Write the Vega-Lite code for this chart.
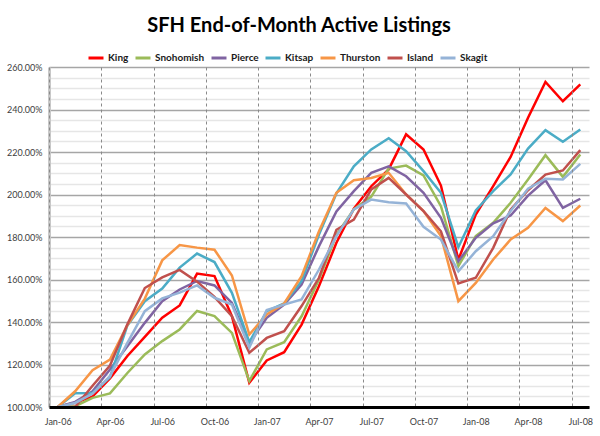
{
  "$schema": "https://vega.github.io/schema/vega-lite/v6.json",
  "width": 540,
  "height": 340,
  "autosize": "none",
  "padding": {"left": 49, "top": 67, "right": 11, "bottom": 29},
  "background": "white",
  "title": {
    "text": "SFH End-of-Month Active Listings",
    "font": "Lato",
    "fontSize": 20,
    "fontWeight": "bold",
    "color": "#000000",
    "anchor": "middle",
    "frame": "group",
    "baseline": "alphabetic",
    "offset": -3,
    "dx": -20
  },
  "datasets": {
    "listings": [
      {"m":"Jan-06","s":"King","v":100},{"m":"Feb-06","s":"King","v":102},{"m":"Mar-06","s":"King","v":105},{"m":"Apr-06","s":"King","v":113.5},{"m":"May-06","s":"King","v":124},{"m":"Jun-06","s":"King","v":133},{"m":"Jul-06","s":"King","v":142},{"m":"Aug-06","s":"King","v":147.8},{"m":"Sep-06","s":"King","v":162.8},{"m":"Oct-06","s":"King","v":161.6},{"m":"Nov-06","s":"King","v":142.7},{"m":"Dec-06","s":"King","v":111.4},{"m":"Jan-07","s":"King","v":121.9},{"m":"Feb-07","s":"King","v":125.8},{"m":"Mar-07","s":"King","v":138.8},{"m":"Apr-07","s":"King","v":156.9},{"m":"May-07","s":"King","v":177.3},{"m":"Jun-07","s":"King","v":193.3},{"m":"Jul-07","s":"King","v":203.9},{"m":"Aug-07","s":"King","v":211.8},{"m":"Sep-07","s":"King","v":228.3},{"m":"Oct-07","s":"King","v":221.2},{"m":"Nov-07","s":"King","v":204.2},{"m":"Dec-07","s":"King","v":169.3},{"m":"Jan-08","s":"King","v":190.6},{"m":"Feb-08","s":"King","v":203.9},{"m":"Mar-08","s":"King","v":217.7},{"m":"Apr-08","s":"King","v":236.1},{"m":"May-08","s":"King","v":253},{"m":"Jun-08","s":"King","v":243.9},{"m":"Jul-08","s":"King","v":251.8},
      {"m":"Jan-06","s":"Snohomish","v":100},{"m":"Feb-06","s":"Snohomish","v":100.4},{"m":"Mar-06","s":"Snohomish","v":104.3},{"m":"Apr-06","s":"Snohomish","v":106.4},{"m":"May-06","s":"Snohomish","v":116},{"m":"Jun-06","s":"Snohomish","v":124.7},{"m":"Jul-06","s":"Snohomish","v":131},{"m":"Aug-06","s":"Snohomish","v":136.5},{"m":"Sep-06","s":"Snohomish","v":145.2},{"m":"Oct-06","s":"Snohomish","v":142.8},{"m":"Nov-06","s":"Snohomish","v":134.9},{"m":"Dec-06","s":"Snohomish","v":112.2},{"m":"Jan-07","s":"Snohomish","v":127.1},{"m":"Feb-07","s":"Snohomish","v":130.5},{"m":"Mar-07","s":"Snohomish","v":142.7},{"m":"Apr-07","s":"Snohomish","v":160},{"m":"May-07","s":"Snohomish","v":181},{"m":"Jun-07","s":"Snohomish","v":193},{"m":"Jul-07","s":"Snohomish","v":199},{"m":"Aug-07","s":"Snohomish","v":212.2},{"m":"Sep-07","s":"Snohomish","v":213.6},{"m":"Oct-07","s":"Snohomish","v":209},{"m":"Nov-07","s":"Snohomish","v":194.5},{"m":"Dec-07","s":"Snohomish","v":166.3},{"m":"Jan-08","s":"Snohomish","v":180.4},{"m":"Feb-08","s":"Snohomish","v":186.7},{"m":"Mar-08","s":"Snohomish","v":196.1},{"m":"Apr-08","s":"Snohomish","v":207.1},{"m":"May-08","s":"Snohomish","v":218.5},{"m":"Jun-08","s":"Snohomish","v":208.3},{"m":"Jul-08","s":"Snohomish","v":218.8},
      {"m":"Jan-06","s":"Pierce","v":100},{"m":"Feb-06","s":"Pierce","v":102.4},{"m":"Mar-06","s":"Pierce","v":107.4},{"m":"Apr-06","s":"Pierce","v":117.6},{"m":"May-06","s":"Pierce","v":128.6},{"m":"Jun-06","s":"Pierce","v":139.6},{"m":"Jul-06","s":"Pierce","v":149.8},{"m":"Aug-06","s":"Pierce","v":155.3},{"m":"Sep-06","s":"Pierce","v":159.3},{"m":"Oct-06","s":"Pierce","v":157.2},{"m":"Nov-06","s":"Pierce","v":149},{"m":"Dec-06","s":"Pierce","v":130},{"m":"Jan-07","s":"Pierce","v":142},{"m":"Feb-07","s":"Pierce","v":148.2},{"m":"Mar-07","s":"Pierce","v":157.6},{"m":"Apr-07","s":"Pierce","v":175.7},{"m":"May-07","s":"Pierce","v":192},{"m":"Jun-07","s":"Pierce","v":201.6},{"m":"Jul-07","s":"Pierce","v":210.2},{"m":"Aug-07","s":"Pierce","v":213.2},{"m":"Sep-07","s":"Pierce","v":208.6},{"m":"Oct-07","s":"Pierce","v":200.8},{"m":"Nov-07","s":"Pierce","v":189},{"m":"Dec-07","s":"Pierce","v":168.6},{"m":"Jan-08","s":"Pierce","v":179.6},{"m":"Feb-08","s":"Pierce","v":186.4},{"m":"Mar-08","s":"Pierce","v":190.1},{"m":"Apr-08","s":"Pierce","v":199.5},{"m":"May-08","s":"Pierce","v":206.7},{"m":"Jun-08","s":"Pierce","v":193.7},{"m":"Jul-08","s":"Pierce","v":198},
      {"m":"Jan-06","s":"Kitsap","v":100},{"m":"Feb-06","s":"Kitsap","v":106.5},{"m":"Mar-06","s":"Kitsap","v":106.6},{"m":"Apr-06","s":"Kitsap","v":114},{"m":"May-06","s":"Kitsap","v":138.4},{"m":"Jun-06","s":"Kitsap","v":149.8},{"m":"Jul-06","s":"Kitsap","v":155.7},{"m":"Aug-06","s":"Kitsap","v":165.6},{"m":"Sep-06","s":"Kitsap","v":172.2},{"m":"Oct-06","s":"Kitsap","v":168.2},{"m":"Nov-06","s":"Kitsap","v":153.7},{"m":"Dec-06","s":"Kitsap","v":130.5},{"m":"Jan-07","s":"Kitsap","v":145.1},{"m":"Feb-07","s":"Kitsap","v":148.7},{"m":"Mar-07","s":"Kitsap","v":159.2},{"m":"Apr-07","s":"Kitsap","v":181.2},{"m":"May-07","s":"Kitsap","v":200.5},{"m":"Jun-07","s":"Kitsap","v":213.3},{"m":"Jul-07","s":"Kitsap","v":221.2},{"m":"Aug-07","s":"Kitsap","v":226.5},{"m":"Sep-07","s":"Kitsap","v":220.4},{"m":"Oct-07","s":"Kitsap","v":211},{"m":"Nov-07","s":"Kitsap","v":200.8},{"m":"Dec-07","s":"Kitsap","v":175.2},{"m":"Jan-08","s":"Kitsap","v":192.5},{"m":"Feb-08","s":"Kitsap","v":201.6},{"m":"Mar-08","s":"Kitsap","v":209.4},{"m":"Apr-08","s":"Kitsap","v":221.6},{"m":"May-08","s":"Kitsap","v":230.3},{"m":"Jun-08","s":"Kitsap","v":224.8},{"m":"Jul-08","s":"Kitsap","v":230.6},
      {"m":"Jan-06","s":"Thurston","v":100},{"m":"Feb-06","s":"Thurston","v":107.4},{"m":"Mar-06","s":"Thurston","v":117.3},{"m":"Apr-06","s":"Thurston","v":122.3},{"m":"May-06","s":"Thurston","v":138.5},{"m":"Jun-06","s":"Thurston","v":151},{"m":"Jul-06","s":"Thurston","v":169},{"m":"Aug-06","s":"Thurston","v":176.2},{"m":"Sep-06","s":"Thurston","v":175},{"m":"Oct-06","s":"Thurston","v":174},{"m":"Nov-06","s":"Thurston","v":161.9},{"m":"Dec-06","s":"Thurston","v":134.1},{"m":"Jan-07","s":"Thurston","v":143.5},{"m":"Feb-07","s":"Thurston","v":148.7},{"m":"Mar-07","s":"Thurston","v":161.6},{"m":"Apr-07","s":"Thurston","v":182.7},{"m":"May-07","s":"Thurston","v":200.8},{"m":"Jun-07","s":"Thurston","v":206.7},{"m":"Jul-07","s":"Thurston","v":207.8},{"m":"Aug-07","s":"Thurston","v":210.2},{"m":"Sep-07","s":"Thurston","v":200},{"m":"Oct-07","s":"Thurston","v":192.2},{"m":"Nov-07","s":"Thurston","v":180.4},{"m":"Dec-07","s":"Thurston","v":149.8},{"m":"Jan-08","s":"Thurston","v":158.4},{"m":"Feb-08","s":"Thurston","v":169.4},{"m":"Mar-08","s":"Thurston","v":178.8},{"m":"Apr-08","s":"Thurston","v":184.3},{"m":"May-08","s":"Thurston","v":193.7},{"m":"Jun-08","s":"Thurston","v":187.5},{"m":"Jul-08","s":"Thurston","v":194.8},
      {"m":"Jan-06","s":"Island","v":100},{"m":"Feb-06","s":"Island","v":100},{"m":"Mar-06","s":"Island","v":110},{"m":"Apr-06","s":"Island","v":119.5},{"m":"May-06","s":"Island","v":138.9},{"m":"Jun-06","s":"Island","v":156},{"m":"Jul-06","s":"Island","v":161},{"m":"Aug-06","s":"Island","v":164.5},{"m":"Sep-06","s":"Island","v":159},{"m":"Oct-06","s":"Island","v":151.8},{"m":"Nov-06","s":"Island","v":142.7},{"m":"Dec-06","s":"Island","v":125.5},{"m":"Jan-07","s":"Island","v":132.5},{"m":"Feb-07","s":"Island","v":135.7},{"m":"Mar-07","s":"Island","v":147.5},{"m":"Apr-07","s":"Island","v":160.8},{"m":"May-07","s":"Island","v":183.4},{"m":"Jun-07","s":"Island","v":188.2},{"m":"Jul-07","s":"Island","v":202.4},{"m":"Aug-07","s":"Island","v":207.8},{"m":"Sep-07","s":"Island","v":200},{"m":"Oct-07","s":"Island","v":192.2},{"m":"Nov-07","s":"Island","v":182.7},{"m":"Dec-07","s":"Island","v":158.1},{"m":"Jan-08","s":"Island","v":160.8},{"m":"Feb-08","s":"Island","v":174.9},{"m":"Mar-08","s":"Island","v":192.9},{"m":"Apr-08","s":"Island","v":202},{"m":"May-08","s":"Island","v":209.4},{"m":"Jun-08","s":"Island","v":211.3},{"m":"Jul-08","s":"Island","v":220.9},
      {"m":"Jan-06","s":"Skagit","v":100},{"m":"Feb-06","s":"Skagit","v":101.9},{"m":"Mar-06","s":"Skagit","v":106.3},{"m":"Apr-06","s":"Skagit","v":114.5},{"m":"May-06","s":"Skagit","v":130.2},{"m":"Jun-06","s":"Skagit","v":145.1},{"m":"Jul-06","s":"Skagit","v":151.1},{"m":"Aug-06","s":"Skagit","v":153.8},{"m":"Sep-06","s":"Skagit","v":157.2},{"m":"Oct-06","s":"Skagit","v":151.4},{"m":"Nov-06","s":"Skagit","v":148.2},{"m":"Dec-06","s":"Skagit","v":128},{"m":"Jan-07","s":"Skagit","v":145.6},{"m":"Feb-07","s":"Skagit","v":148.2},{"m":"Mar-07","s":"Skagit","v":150.6},{"m":"Apr-07","s":"Skagit","v":164.7},{"m":"May-07","s":"Skagit","v":180.4},{"m":"Jun-07","s":"Skagit","v":193},{"m":"Jul-07","s":"Skagit","v":197.6},{"m":"Aug-07","s":"Skagit","v":196.4},{"m":"Sep-07","s":"Skagit","v":195.8},{"m":"Oct-07","s":"Skagit","v":184.8},{"m":"Nov-07","s":"Skagit","v":178.8},{"m":"Dec-07","s":"Skagit","v":163.9},{"m":"Jan-08","s":"Skagit","v":173.3},{"m":"Feb-08","s":"Skagit","v":180.4},{"m":"Mar-08","s":"Skagit","v":192.2},{"m":"Apr-08","s":"Skagit","v":202.7},{"m":"May-08","s":"Skagit","v":207.4},{"m":"Jun-08","s":"Skagit","v":207.1},{"m":"Jul-08","s":"Skagit","v":214.4}
    ]
  },
  "data": {"name": "listings"},
  "mark": {"type": "line", "strokeWidth": 2.5, "strokeJoin": "miter"},
  "encoding": {
    "x": {
      "field": "m",
      "type": "ordinal",
      "sort": null,
      "scale": {
        "type": "point",
        "padding": 0.5,
        "domain": ["Jan-06","Feb-06","Mar-06","Apr-06","May-06","Jun-06","Jul-06","Aug-06","Sep-06","Oct-06","Nov-06","Dec-06","Jan-07","Feb-07","Mar-07","Apr-07","May-07","Jun-07","Jul-07","Aug-07","Sep-07","Oct-07","Nov-07","Dec-07","Jan-08","Feb-08","Mar-08","Apr-08","May-08","Jun-08","Jul-08"]
      },
      "axis": {
        "title": null,
        "values": ["Jan-06","Apr-06","Jul-06","Oct-06","Jan-07","Apr-07","Jul-07","Oct-07","Jan-08","Apr-08","Jul-08"],
        "grid": true,
        "gridDash": [3, 3],
        "gridColor": "#8a8a8a",
        "gridWidth": 1,
        "ticks": false,
        "tickOffset": -8.71,
        "labelOffset": 8.71,
        "domainColor": "#000000",
        "domainWidth": 3,
        "labelAngle": 0,
        "labelFont": "Lato",
        "labelFontSize": 9,
        "labelColor": "#404040",
        "labelPadding": 10,
        "zindex": 1
      }
    },
    "y": {
      "field": "v",
      "type": "quantitative",
      "scale": {"domain": [100, 260], "nice": false, "zero": false},
      "axis": {
        "title": null,
        "values": [100,105,110,115,120,125,130,135,140,145,150,155,160,165,170,175,180,185,190,195,200,205,210,215,220,225,230,235,240,245,250,255,260],
        "grid": true,
        "gridColor": {"condition": {"test": "datum.value % 20 === 0", "value": "#a6a6a6"}, "value": "#e6e6e6"},
        "gridWidth": 1.5,
        "ticks": false,
        "labelExpr": "datum.value % 20 === 0 ? format(datum.value, '.2f') + '%' : ''",
        "labelFont": "Lato",
        "labelFontSize": 9,
        "labelColor": "#404040",
        "labelPadding": 7,
        "domainColor": "#c8c8c8",
        "domainWidth": 3
      }
    },
    "color": {
      "field": "s",
      "type": "nominal",
      "scale": {
        "domain": ["King","Snohomish","Pierce","Kitsap","Thurston","Island","Skagit"],
        "range": ["#FF0000","#9BBB59","#8064A2","#4BACC6","#F79646","#C0504D","#95B3D7"]
      },
      "legend": {
        "orient": "none",
        "legendX": 38,
        "legendY": -18,
        "direction": "horizontal",
        "columns": 7,
        "gridAlign": "none",
        "title": null,
        "symbolType": "stroke",
        "symbolSize": 225,
        "symbolStrokeWidth": 3,
        "labelFont": "Lato",
        "labelFontSize": 10,
        "labelFontWeight": "bold",
        "labelColor": "#1a1a1a",
        "labelOffset": 3,
        "columnPadding": 0
      }
    }
  },
  "config": {
    "view": {"stroke": null}
  }
}
